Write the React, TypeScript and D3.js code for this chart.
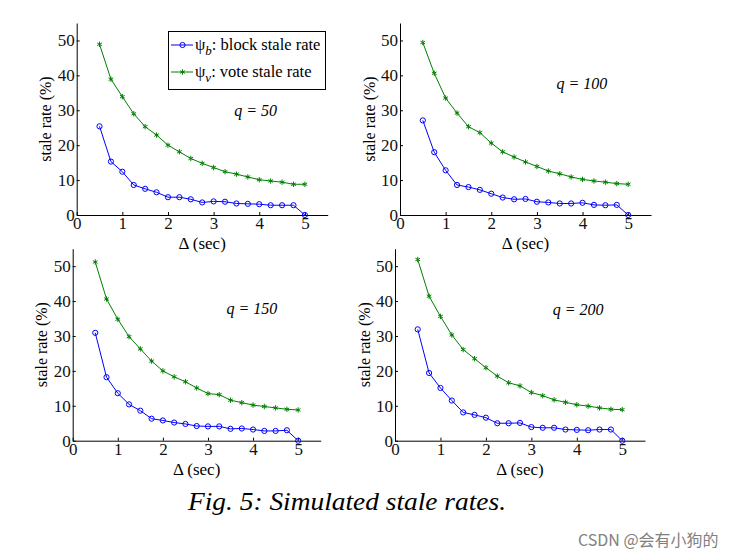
import React, { useEffect, useRef } from 'react';
import * as d3 from 'd3';

// network latency Δ (sec)
const deltas = [0.5, 0.75, 1, 1.25, 1.5, 1.75, 2, 2.25, 2.5, 2.75, 3, 3.25, 3.5, 3.75, 4, 4.25, 4.5, 4.75, 5];

// stale rates (%) per q
const blockQ50 = [25.4, 15.3, 12.4, 8.6, 7.5, 6.5, 5.1, 5.1, 4.5, 3.6, 3.9, 3.8, 3.3, 3.2, 3.1, 2.8, 2.8, 2.8, 0];
const voteQ50 = [48.9, 38.9, 33.9, 29.0, 25.3, 22.9, 20.0, 18.1, 16.2, 14.8, 13.6, 12.4, 11.7, 10.9, 10.1, 9.75, 9.4, 8.8, 8.8];

const blockQ100 = [27.1, 18.0, 12.8, 8.6, 8.0, 7.2, 6.1, 5.0, 4.5, 4.6, 3.8, 3.6, 3.3, 3.3, 3.5, 2.9, 2.8, 2.9, 0];
const voteQ100 = [49.4, 40.6, 33.5, 29.2, 25.3, 23.6, 20.6, 18.1, 16.6, 15.2, 13.9, 12.6, 11.8, 10.9, 10.2, 9.75, 9.4, 9.0, 8.8];

const blockQ150 = [30.9, 18.2, 13.6, 10.4, 8.6, 6.3, 5.8, 5.2, 4.8, 4.2, 4.1, 4.1, 3.4, 3.5, 3.2, 2.8, 2.8, 3.0, 0];
const voteQ150 = [51.2, 40.6, 34.8, 29.8, 26.3, 22.8, 20.0, 18.3, 16.9, 15.1, 13.5, 13.2, 11.6, 10.9, 10.2, 9.8, 9.4, 9.0, 8.8];

const blockQ200 = [31.9, 19.4, 15.1, 11.5, 8.1, 7.4, 6.6, 5.0, 5.0, 5.1, 3.9, 3.7, 3.7, 3.2, 3.1, 3.0, 3.2, 3.2, 0];
const voteQ200 = [51.9, 41.4, 35.6, 30.3, 26.1, 23.5, 20.9, 18.5, 16.6, 15.7, 13.8, 12.9, 11.7, 11.0, 10.3, 9.9, 9.4, 9.0, 8.9];

const qValues = [50, 100, 150, 200];
const xTicks = [0, 1, 2, 3, 4, 5];
const yTicks = [0, 10, 20, 30, 40, 50];

const BLUE = '#0000ff';
const GREEN = '#008000';
const SERIF = "'Liberation Serif', 'Times New Roman', serif";

// where each subplot sits on the page
const layouts = [
  { left: 76.7, bottom: 215, width: 251, qx: 3.45, qy: 30 },
  { left: 400, bottom: 215, width: 251, qx: 3.43, qy: 37.7 },
  { left: 72.7, bottom: 440.7, width: 248, qx: 3.41, qy: 37.9 },
  { left: 395, bottom: 440.7, width: 250, qx: 3.47, qy: 37.6 },
];
const plotHeight = 192;

const App: React.FC = () => {
  const svgRef = useRef<SVGSVGElement>(null);

  useEffect(() => {
    if (!svgRef.current) return;
    const svg = d3.select(svgRef.current);
    svg.selectAll('*').remove();

    const series = [
      { block: blockQ50, vote: voteQ50 },
      { block: blockQ100, vote: voteQ100 },
      { block: blockQ150, vote: voteQ150 },
      { block: blockQ200, vote: voteQ200 },
    ];

    const star = d3.symbol(d3.symbolAsterisk, 20);

    series.forEach((s, i) => {
      const L = layouts[i];
      const x = d3.scaleLinear().domain([0, 5.5]).range([L.left, L.left + L.width]);
      const y = d3.scaleLinear().domain([0, 55]).range([L.bottom, L.bottom - plotHeight]);
      const g = svg.append('g');

      const xAxis = g.append('g')
        .attr('transform', `translate(0,${L.bottom})`)
        .call(d3.axisBottom(x).tickValues(xTicks).tickFormat(d3.format('d')).tickSizeInner(-3).tickSizeOuter(0).tickPadding(2));
      const yAxis = g.append('g')
        .attr('transform', `translate(${L.left},0)`)
        .call(d3.axisLeft(y).tickValues(yTicks).tickFormat(d3.format('d')).tickSizeInner(-3).tickSizeOuter(0).tickPadding(2));
      [xAxis, yAxis].forEach(a => {
        a.selectAll('text')
          .style('font-family', SERIF)
          .style('font-size', '17px')
          .attr('fill', '#111');
        a.selectAll('path, line').attr('stroke', '#000');
      });

      g.append('text')
        .attr('x', x(2.75))
        .attr('y', L.bottom + 34)
        .attr('text-anchor', 'middle')
        .style('font-family', SERIF)
        .style('font-size', '17px')
        .text('Δ (sec)');

      g.append('text')
        .attr('transform', `translate(${L.left - 31},${y(27.5)}) rotate(-90)`)
        .attr('text-anchor', 'middle')
        .attr('dy', '0.35em')
        .style('font-family', SERIF)
        .style('font-size', '16px')
        .text('stale rate (%)');

      const line = d3.line<number>().x((_, j) => x(deltas[j])).y(d => y(d));

      g.append('path')
        .datum(s.vote)
        .attr('d', line)
        .attr('fill', 'none')
        .attr('stroke', GREEN)
        .attr('stroke-width', 1);
      g.selectAll('.star')
        .data(s.vote)
        .enter()
        .append('path')
        .attr('d', star)
        .attr('transform', (d, j) => `translate(${x(deltas[j])},${y(d)})`)
        .attr('fill', 'none')
        .attr('stroke', GREEN)
        .attr('stroke-width', 1);

      g.append('path')
        .datum(s.block)
        .attr('d', line)
        .attr('fill', 'none')
        .attr('stroke', BLUE)
        .attr('stroke-width', 1);
      g.selectAll('.circ')
        .data(s.block)
        .enter()
        .append('circle')
        .attr('cx', (_, j) => x(deltas[j]))
        .attr('cy', d => y(d))
        .attr('r', 2.6)
        .attr('fill', 'none')
        .attr('stroke', BLUE)
        .attr('stroke-width', 1);

      g.append('text')
        .attr('x', x(L.qx))
        .attr('y', y(L.qy))
        .attr('dy', '0.35em')
        .style('font-family', SERIF)
        .style('font-size', '16px')
        .style('font-style', 'italic')
        .text(`q = ${qValues[i]}`);
    });

    // legend (top-left panel)
    const lg = svg.append('g');
    lg.append('rect')
      .attr('x', 168.5).attr('y', 31.5)
      .attr('width', 157).attr('height', 58)
      .attr('fill', '#fff').attr('stroke', '#000').attr('stroke-width', 1);
    const rows = [
      { color: BLUE, sub: 'b', label: ': block stale rate', marker: 'circle' },
      { color: GREEN, sub: 'v', label: ': vote stale rate', marker: 'star' },
    ];
    rows.forEach((r, k) => {
      const cy = 45 + k * 27;
      lg.append('line')
        .attr('x1', 171).attr('x2', 193).attr('y1', cy).attr('y2', cy)
        .attr('stroke', r.color).attr('stroke-width', 1);
      if (r.marker === 'circle') {
        lg.append('circle').attr('cx', 182.5).attr('cy', cy).attr('r', 2.6)
          .attr('fill', 'none').attr('stroke', r.color);
      } else {
        lg.append('path').attr('d', star).attr('transform', `translate(182.5,${cy})`)
          .attr('fill', 'none').attr('stroke', r.color);
      }
      const t = lg.append('text')
        .attr('x', 195).attr('y', cy + 5)
        .style('font-family', SERIF)
        .style('font-size', '16.5px');
      t.append('tspan').text('ψ');
      t.append('tspan').attr('dy', 5).style('font-style', 'italic').style('font-size', '13px').text(r.sub);
      t.append('tspan').attr('dy', -5).text(r.label);
    });

    svg.append('text')
      .attr('x', 188)
      .attr('y', 510)
      .attr('textLength', 318)
      .attr('lengthAdjust', 'spacingAndGlyphs')
      .style('font-family', SERIF)
      .style('font-size', '25px')
      .style('font-style', 'italic')
      .text('Fig. 5: Simulated stale rates.');

    svg.append('text')
      .attr('x', 578)
      .attr('y', 546)
      .style('font-family', "'Noto Sans CJK SC', 'Noto Sans', sans-serif")
      .style('font-size', '16px')
      .attr('fill', '#808080')
      .text('CSDN @会有小狗的');
  }, []);

  return (
    <svg
      ref={svgRef}
      width={735}
      height={557}
      style={{ position: 'absolute', left: 0, top: 0, background: '#fff' }}
    />
  );
};

export default App;
